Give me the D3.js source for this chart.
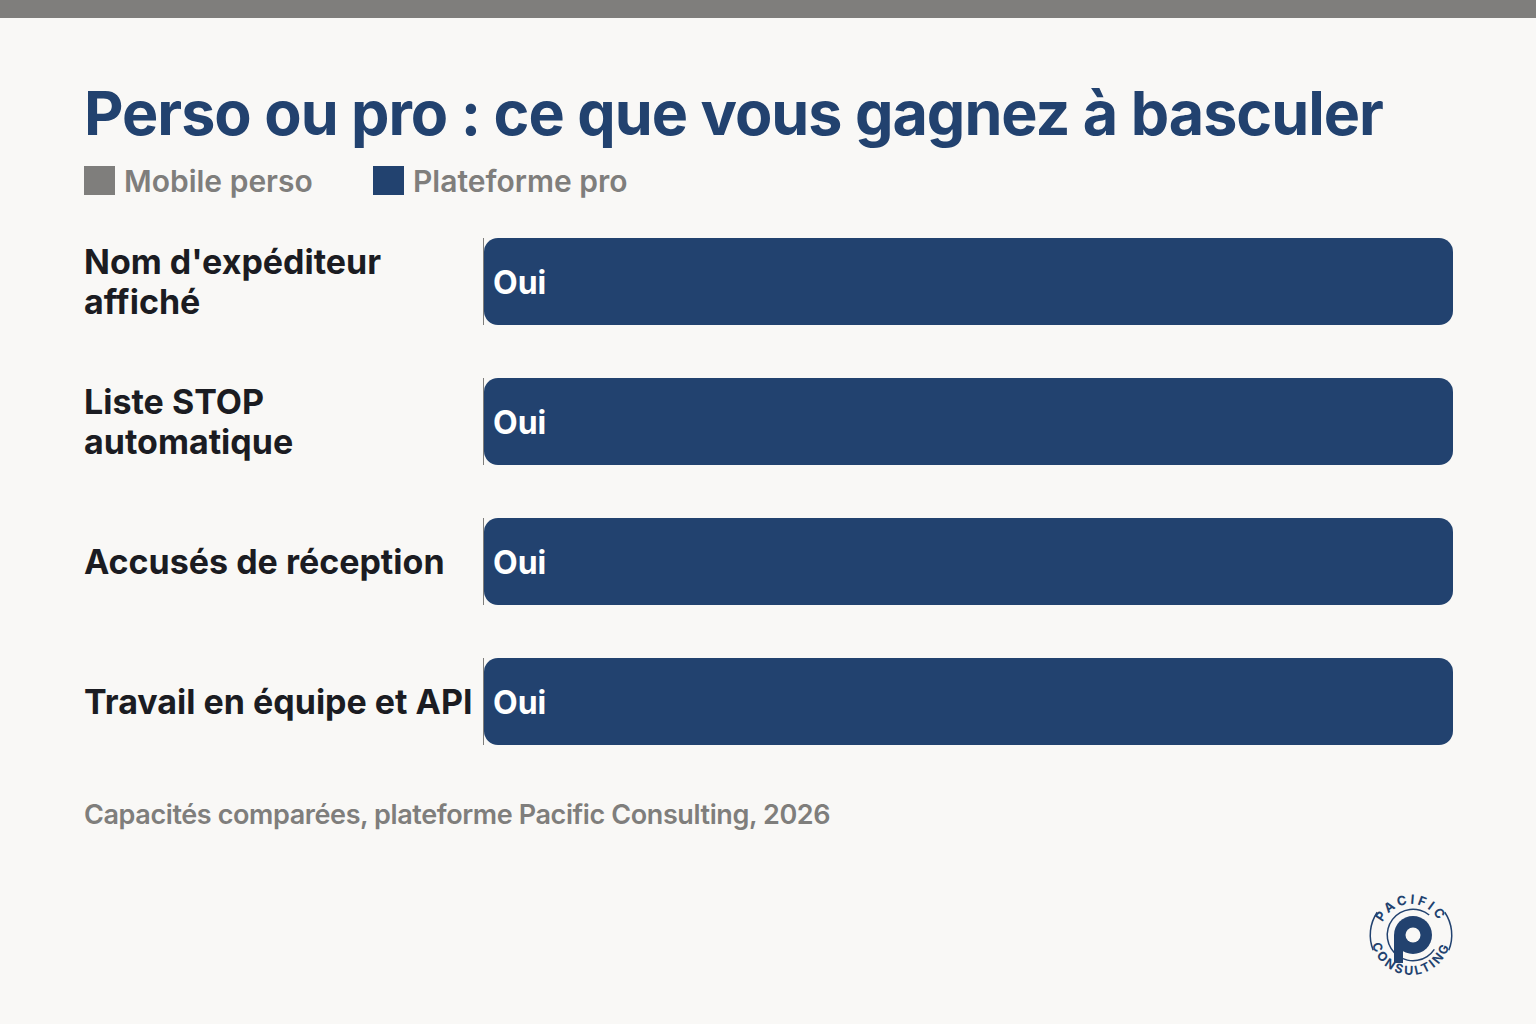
<!DOCTYPE html>
<html lang="fr">
<head>
<meta charset="utf-8">
<script src="https://cdn.jsdelivr.net/npm/d3@7"></script>
<style>
  html, body { margin: 0; padding: 0; background: #f9f8f6; }
  svg { display: block; font-family: Inter, "Noto Sans", sans-serif; }
</style>
</head>
<body>
<svg id="chart"></svg>
<script>
const categories = [
  ["Nom d'expéditeur", "affiché"],
  ["Liste STOP", "automatique"],
  ["Accusés de réception"],
  ["Travail en équipe et API"]
];
const series = ['Mobile perso', 'Plateforme pro'];
const persoValues = [0, 0, 0, 0];
const proValues = [1, 1, 1, 1];
const proLabels = ['Oui', 'Oui', 'Oui', 'Oui'];

const W = 1536, H = 1024;
const navy = '#22426f', grey = '#7f7e7c', bg = '#f9f8f6';

const svg = d3.select('#chart').attr('width', W).attr('height', H);

svg.append('rect').attr('width', W).attr('height', H).attr('fill', bg);
svg.append('rect').attr('width', W).attr('height', 18).attr('fill', grey);

// title
svg.append('text')
  .attr('x', 84).attr('y', 135)
  .attr('fill', navy)
  .style('font-size', '61px').style('font-weight', 700)
  .style('letter-spacing', '-1px')
  .text('Perso ou pro : ce que vous gagnez à basculer');

// legend
const color = d3.scaleOrdinal().domain(series).range([grey, navy]);
const legend = svg.selectAll('.legend')
  .data(series)
  .enter().append('g')
  .attr('class', 'legend')
  .attr('transform', (_, i) => `translate(${84 + i * 289}, 166)`);
legend.append('rect').attr('width', 31).attr('height', 29).attr('fill', d => color(d));
legend.append('text')
  .attr('x', 40).attr('y', 26)
  .attr('fill', grey)
  .style('font-size', '30px').style('font-weight', 600)
  .text(d => d);

// bars
const x = d3.scaleLinear().domain([0, 1]).range([483, 1453]);
const y = d3.scaleBand().domain(d3.range(categories.length)).range([238, 745]).paddingInner(53 / 140).paddingOuter(0);

const rows = svg.selectAll('.row')
  .data(categories)
  .enter().append('g')
  .attr('class', 'row');

rows.append('rect')
  .attr('x', x(0) + 1)
  .attr('y', (_, i) => y(i))
  .attr('width', (_, i) => x(proValues[i]) - x(0) - 1)
  .attr('height', y.bandwidth())
  .attr('rx', 14)
  .attr('fill', navy);

rows.append('rect')
  .attr('x', x(0))
  .attr('y', (_, i) => y(i))
  .attr('width', (_, i) => Math.max(1, x(persoValues[i]) - x(0)))
  .attr('height', y.bandwidth())
  .attr('fill', grey);

rows.append('text')
  .attr('x', x(0) + 10)
  .attr('y', (_, i) => y(i) + y.bandwidth() / 2 + 12)
  .attr('fill', '#ffffff')
  .style('font-size', '32px').style('font-weight', 700)
  .text((_, i) => proLabels[i]);

// category labels
rows.append('text')
  .attr('fill', '#1b1c22')
  .style('font-size', '34px').style('font-weight', 700)
  .each(function (d, i) {
    const cy = y(i) + y.bandwidth() / 2;
    const lh = 40;
    const y0 = cy + 12 - (d.length - 1) * lh / 2;
    d3.select(this).selectAll('tspan')
      .data(d)
      .enter().append('tspan')
      .attr('x', 84)
      .attr('y', (_, j) => y0 + j * lh)
      .text(t => t);
  });

// source
svg.append('text')
  .attr('x', 84).attr('y', 824)
  .attr('fill', grey)
  .style('font-size', '27px').style('font-weight', 600)
  .style('letter-spacing', '-0.4px')
  .text('Capacités comparées, plateforme Pacific Consulting, 2026');

// logo
const logo = svg.append('g').attr('transform', 'translate(1411, 935)');
const defs = svg.append('defs');
defs.append('path').attr('id', 'arcTop').attr('d', 'M -31 0 A 31 31 0 0 1 31 0');
defs.append('path').attr('id', 'arcBot').attr('d', 'M -40 0 A 40 40 0 0 0 40 0');
const ring = d3.arc().innerRadius(40).outerRadius(41.5);
[[-112, -56], [56, 112]].forEach(a => {
  logo.append('path')
    .attr('d', ring({ startAngle: a[0] * Math.PI / 180, endAngle: a[1] * Math.PI / 180 }))
    .attr('fill', navy);
});
logo.append('text').attr('fill', navy).style('font-size', '13px').style('font-weight', 700)
  .style('letter-spacing', '3px')
  .append('textPath').attr('href', '#arcTop').attr('startOffset', '50%').attr('text-anchor', 'middle')
  .text('PACIFIC');
logo.append('text').attr('fill', navy).style('font-size', '12.5px').style('font-weight', 700)
  .style('letter-spacing', '2.4px')
  .append('textPath').attr('href', '#arcBot').attr('startOffset', '50%').attr('text-anchor', 'middle')
  .text('CONSULTING');
const inner = logo.append('g').attr('transform', 'translate(2, 0)');
inner.append('path')
  .attr('d', d3.arc().innerRadius(25).outerRadius(26.5)({ startAngle: 124 * Math.PI / 180, endAngle: 399 * Math.PI / 180 }))
  .attr('fill', navy);
inner.append('rect').attr('x', -19).attr('y', 0).attr('width', 9).attr('height', 28).attr('fill', navy);
inner.append('circle').attr('r', 19).attr('fill', navy);
inner.append('circle').attr('r', 7.5).attr('fill', bg);
</script>
</body>
</html>
